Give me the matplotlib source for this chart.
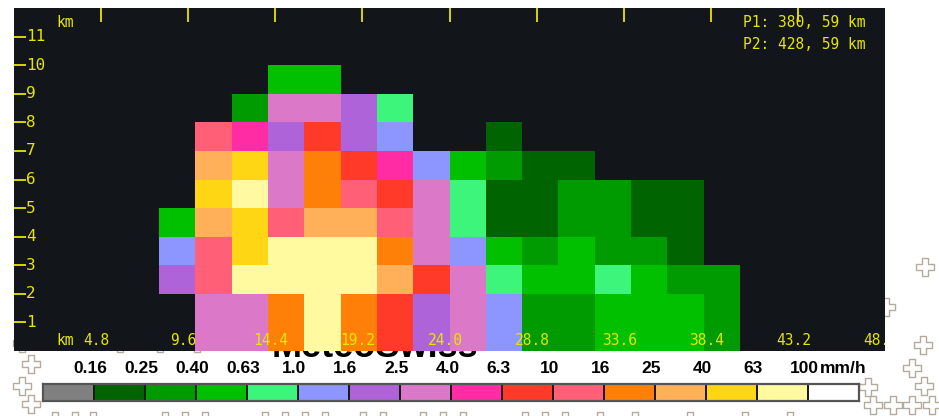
import matplotlib
import numpy as np

matplotlib.use("Agg")
import matplotlib.pyplot as plt
from matplotlib.colors import BoundaryNorm, ListedColormap


# rain-rate classes (mm/h) and their colours
RATE_LABELS = ["0.16", "0.25", "0.40", "0.63", "1.0", "1.6", "2.5", "4.0",
               "6.3", "10", "16", "25", "40", "63", "100"]
RATE_COLORS = ["#808080", "#006400", "#009b00", "#00c000", "#3ef57c", "#8c96fe",
               "#ae64d8", "#dc78c8", "#ff2ca4", "#ff3a28", "#ff6078", "#ff8008",
               "#ffb058", "#ffd614", "#fffaa0", "#ffffff"]

# cross-section grid: distance columns (km) and height rows (km)
COLUMN_EDGES_KM = [8, 10, 12, 14, 16, 18, 20, 22, 24, 26, 28, 30, 32, 34, 36, 38, 40]
HEIGHT_EDGES_KM = [0, 1, 2, 3, 4, 5, 6, 7, 8, 9, 10]

# class index per cell, bottom row first, -1 = no echo
CELLS = [
    [-1, 7, 7, 11, 14, 11, 9, 6, 7, 5, 2, 2, 3, 3, 3, 2],     # 0-1 km
    [-1, 7, 7, 11, 14, 11, 9, 6, 7, 5, 2, 2, 3, 3, 3, 2],     # 1-2 km
    [6, 10, 14, 14, 14, 14, 12, 9, 7, 4, 3, 3, 4, 3, 2, 2],   # 2-3 km
    [5, 10, 13, 14, 14, 14, 11, 7, 5, 3, 2, 3, 2, 2, 1, -1],  # 3-4 km
    [3, 12, 13, 10, 12, 12, 10, 7, 4, 1, 1, 2, 2, 1, 1, -1],  # 4-5 km
    [-1, 13, 14, 7, 11, 10, 9, 7, 4, 1, 1, 2, 2, 1, 1, -1],   # 5-6 km
    [-1, 12, 13, 7, 11, 9, 8, 5, 3, 2, 1, 1, -1, -1, -1, -1], # 6-7 km
    [-1, 10, 8, 6, 9, 6, 5, -1, -1, 1, -1, -1, -1, -1, -1, -1],  # 7-8 km
    [-1, -1, 2, 7, 7, 6, 4, -1, -1, -1, -1, -1, -1, -1, -1, -1], # 8-9 km
    [-1, -1, -1, 3, 3, -1, -1, -1, -1, -1, -1, -1, -1, -1, -1, -1],  # 9-10 km
]

DIST_TICKS_KM = [4.8, 9.6, 14.4, 19.2, 24.0, 28.8, 33.6, 38.4, 43.2, 48.0]
HEIGHT_TICKS_KM = [1, 2, 3, 4, 5, 6, 7, 8, 9, 10, 11]
PROFILE_TEXT = ["P1: 380, 59 km", "P2: 428, 59 km"]

# decorative background crosses (pixel positions of the page pattern)
CROSS_X = [31, 22, 31, 22, 120, 160, 197, 886, 925, 923, 912, 924, 868,
           873, 893, 912, 932, 55, 75, 93, 165, 185, 205, 265, 285, 305, 325,
           363, 383, 423, 443, 463, 525, 545, 565, 600, 635, 690, 745, 790]
CROSS_Y = [364, 386, 404, 343, 343, 343, 343, 307, 267, 345, 368, 386, 387,
           405, 405, 405, 405, 421, 421, 421, 421, 421, 421, 421, 421, 421, 421,
           421, 421, 421, 421, 421, 421, 421, 421, 421, 421, 421, 421, 421]

YELLOW = "#e6e600"
PANEL_BG = "#12151a"
W, H = 939, 416


def main():
    fig = plt.figure(figsize=(W / 100, H / 100), dpi=100, facecolor="white")

    # page background with the cross pattern and the partly hidden logo
    bg = fig.add_axes([0, 0, 1, 1], zorder=-5)
    bg.set_xlim(0, W)
    bg.set_ylim(H, 0)
    bg.axis("off")
    bg.scatter(CROSS_X, CROSS_Y, marker="P", s=150, facecolor="white",
               edgecolor="#b4aa9e", linewidth=1.0)
    bg.text(272, 357, "MeteoSwiss", fontsize=26, fontweight="bold",
            family="Liberation Sans", ha="left", va="baseline", color="black")

    cmap = ListedColormap(RATE_COLORS)
    norm = BoundaryNorm(np.arange(-0.5, 16.5, 1), cmap.N)

    ax = fig.add_axes([14 / W, 65 / H, 871 / W, 343 / H])
    ax.set_facecolor(PANEL_BG)
    ax.set_xlim(0, 48)
    ax.set_ylim(0, 12)
    ax.set_xticks([])
    ax.set_yticks([])
    for spine in ax.spines.values():
        spine.set_visible(False)

    cells = np.ma.masked_less(np.array(CELLS), 0)
    ax.pcolormesh(COLUMN_EDGES_KM, HEIGHT_EDGES_KM, cells, cmap=cmap, norm=norm)

    mono = "DejaVu Sans Mono"
    # distance ticks along the top edge, labels along the bottom
    ax.vlines(DIST_TICKS_KM[:-1], 12 - 14 / 28.6, 12, color=YELLOW, linewidth=1.3)
    for d in DIST_TICKS_KM:
        ax.text(d - 0.25, 0.35, f"{d:.1f}", color=YELLOW, family=mono,
                fontsize=10.5, ha="center", va="center", clip_on=True)
    ax.text(2.8, 0.35, "km", color=YELLOW, family=mono, fontsize=10.5,
            ha="center", va="center")

    # height ticks on the left
    ax.hlines(HEIGHT_TICKS_KM, 0, 0.66, color=YELLOW, linewidth=1.3)
    for h in HEIGHT_TICKS_KM:
        ax.text(0.68, h, str(h), color=YELLOW, family=mono, fontsize=11.5,
                ha="left", va="center")
    ax.text(2.8, 11.5, "km", color=YELLOW, family=mono, fontsize=10.5,
            ha="center", va="center")

    for i, line in enumerate(PROFILE_TEXT):
        ax.text(40.15, 11.5 - 0.78 * i, line, color=YELLOW, family=mono,
                fontsize=10.5, ha="left", va="center")

    # colour legend
    lax = fig.add_axes([43 / W, 15 / H, 816 / W, 17 / H])
    lax.pcolormesh(np.arange(17), [0, 1], np.arange(16).reshape(1, -1),
                   cmap=cmap, norm=norm, edgecolors="#1a1a1a", linewidth=1.4)
    lax.set_xlim(0, 16)
    lax.set_ylim(0, 1)
    lax.set_xticks([])
    lax.set_yticks([])
    for spine in lax.spines.values():
        spine.set_color("#555555")
        spine.set_linewidth(1.6)
    tr = lax.get_xaxis_transform()
    for i, label in enumerate(RATE_LABELS):
        lax.text(i + 1 - 0.07, 1.9, label, transform=tr, ha="center", va="center",
                 fontsize=12.5, fontweight="bold", family="Liberation Sans",
                 clip_on=False)
    lax.text(15.24, 1.9, "mm/h", transform=tr, ha="left", va="center",
             fontsize=12.5, fontweight="bold", family="Liberation Sans",
             clip_on=False)

    fig.savefig("out.png", dpi=100, facecolor="white")
    plt.close(fig)


if __name__ == "__main__":
    main()
